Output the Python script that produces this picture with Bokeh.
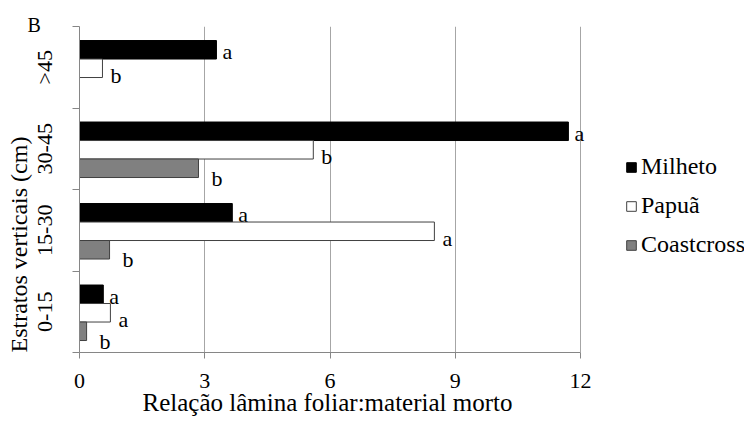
from bokeh.plotting import figure
from bokeh.models import (FixedTicker, Legend, LegendItem, ColumnDataSource, Title)
from bokeh.core.properties import value
from bokeh.embed import file_html
from bokeh.resources import INLINE

categories = ["0-15", "15-30", "30-45", ">45"]
series_names = ["Milheto", "Papuã", "Coastcross"]
milheto = [0.57, 3.66, 11.71, 3.28]
papua = [0.74, 8.5, 5.6, 0.55]
coastcross = [0.17, 0.72, 2.85, 0.0]
milheto_letters = ["a", "a", "a", "a"]
papua_letters = ["a", "a", "b", "b"]
coastcross_letters = ["b", "b", "b", ""]
x_ticks = [0, 3, 6, 9, 12]

FONT = "Liberation Serif"

# frame spans past x=12 so the legend can sit inside it (not clipped)
p = figure(width=749, height=436, output_backend="svg", toolbar_location=None,
           x_range=(0, 15.928), y_range=(-0.5, 3.5),
           min_border_left=79, min_border_right=5, min_border_top=26,
           min_border_bottom=84)
p.outline_line_color = None
p.background_fill_color = "white"
p.border_fill_color = "white"

bar_h = 0.227
offsets = [bar_h, 0.0, -bar_h]
fills = ["black", "white", "#808080"]
lines = ["black", "#404040", "#404040"]
values = [milheto, papua, coastcross]
letters = [milheto_letters, papua_letters, coastcross_letters]
lab_dx = [6, 8, 13]
lab_dy = [2, 7, 10]

renderers = []
for i in range(3):
    ys = [k - 0.0125 + offsets[i] for k in range(len(categories))]
    src = ColumnDataSource(dict(y=ys, right=values[i], txt=letters[i]))
    r = p.hbar(y="y", left=0, right="right", height=bar_h, source=src,
               fill_color=fills[i], line_color=lines[i], line_width=1)
    renderers.append(r)
    p.text(x="right", y="y", text="txt", source=src, x_offset=lab_dx[i], y_offset=lab_dy[i],
           text_font=value(FONT), text_font_size="22px", text_color="black",
           text_align="left", text_baseline="middle")

# x axis
p.xaxis.ticker = FixedTicker(ticks=x_ticks)
p.xaxis.bounds = (0, 12)
p.xaxis.axis_line_color = "#868686"
p.xaxis.major_tick_line_color = "#868686"
p.xaxis.major_tick_out = 6
p.xaxis.major_tick_in = 0
p.xaxis.minor_tick_line_color = None
p.xaxis.major_label_text_font = FONT
p.xaxis.major_label_text_font_size = "22px"
p.xaxis.major_label_text_color = "black"
p.xaxis.major_label_standoff = 15

xtitle = Title(text="Relação lâmina foliar:material morto", align="left", offset=63, standoff=-8,
               text_font=FONT, text_font_size="25px", text_font_style="normal",
               text_color="black")
p.add_layout(xtitle, "below")

# y axis
p.yaxis.ticker = FixedTicker(ticks=list(range(len(categories))),
                             minor_ticks=[k - 0.5 for k in range(len(categories) + 1)])
p.yaxis.major_label_overrides = {k: c for k, c in enumerate(categories)}
p.yaxis.major_label_orientation = "parallel"
p.yaxis.axis_line_color = "#868686"
p.yaxis.major_tick_line_color = None
p.yaxis.major_tick_out = 0
p.yaxis.major_tick_in = 0
p.yaxis.minor_tick_line_color = "#868686"
p.yaxis.minor_tick_out = 7
p.yaxis.minor_tick_in = 0
p.yaxis.major_label_text_font = FONT
p.yaxis.major_label_text_font_size = "22px"
p.yaxis.major_label_text_color = "black"
p.yaxis.major_label_standoff = 16

ytitle = Title(text="Estratos verticais (cm)", align="left", offset=0, standoff=-7,
               text_font=FONT, text_font_size="24px", text_font_style="normal",
               text_color="black")
p.add_layout(ytitle, "left")

p.title.text = "B"
p.title.align = "left"
p.title.offset = -52
p.title.standoff = -18
p.title.text_font = FONT
p.title.text_font_size = "20px"
p.title.text_font_style = "normal"
p.title.text_color = "black"

p.xgrid.ticker = FixedTicker(ticks=x_ticks[1:])
p.xgrid.grid_line_color = "#a6a6a6"
p.xgrid.grid_line_width = 1
p.ygrid.grid_line_color = None

legend = Legend(items=[LegendItem(label=series_names[i], renderers=[renderers[i]]) for i in range(3)],
                location=(546, 94), orientation="vertical",
                glyph_width=12, glyph_height=12, label_standoff=4, spacing=12,
                padding=0, margin=0,
                label_text_font=FONT, label_text_font_size="24px",
                label_text_color="black",
                border_line_color=None, background_fill_alpha=0)
p.add_layout(legend, "center")

open("out.html", "w").write(file_html(p, INLINE))
